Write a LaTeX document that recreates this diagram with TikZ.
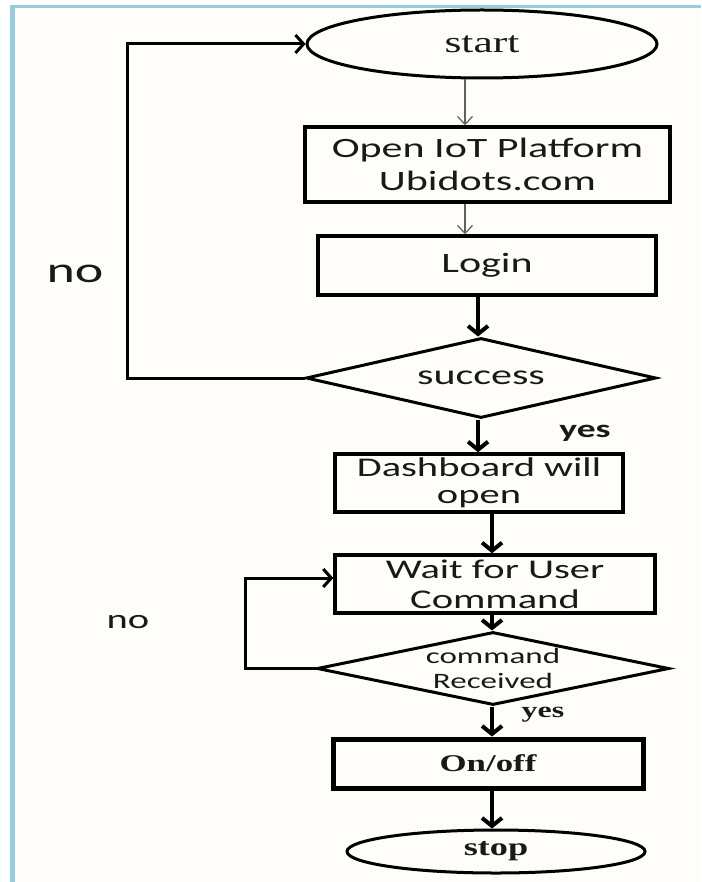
\documentclass[tikz,border=0pt]{standalone}
\usepackage{fontspec}
\usetikzlibrary{shapes.geometric,arrows.meta}
\newfontfamily\sansw[FakeStretch=1.5]{Carlito}
\newfontfamily\serifw[FakeStretch=1.45]{Liberation Serif}
\definecolor{framecol}{RGB}{150,205,222}
\definecolor{paper}{RGB}{255,253,249}
\definecolor{ink}{RGB}{25,25,25}
\definecolor{thinline}{RGB}{95,95,95}
\tikzset{
  box/.style={draw=black, line width=3.5pt, rectangle, inner sep=0pt, align=center, text=ink},
  oval/.style={draw=black, line width=3pt, ellipse, inner sep=0pt, text=ink},
  decision/.style={draw=black, line width=3pt, diamond, inner sep=0pt},
  thinarrow/.style={draw=thinline, line width=1.2pt, -{Straight Barb[length=8pt,width=15pt]}},
  thickarrow/.style={draw=black, line width=4pt, -{Straight Barb[length=8pt,width=20pt]}},
  loopline/.style={draw=black, line width=3pt, -{Straight Barb[length=8pt,width=18pt]}},
  boxtext/.style={font=\sansw\fontsize{28}{33}\selectfont},
}
\begin{document}
\begin{tikzpicture}[x=1pt,y=-1pt]
  \useasboundingbox (0,0) rectangle (701,882);
  % page frame
  \fill[paper] (12,7) rectangle (701,882);
  \draw[framecol, line width=3pt] (12,7) -- (701,7);
  \draw[framecol, line width=5pt] (12,5) -- (12,882);

  % columns used by the vertical connectors
  \coordinate (ca) at (465,0);
  \coordinate (cb) at (478,0);
  \coordinate (cc) at (492,0);
  \coordinate (loopa) at (127,0);
  \coordinate (loopb) at (245,0);

  % flow chart nodes
  \node[oval, minimum width=350, minimum height=68, font=\serifw\fontsize{30}{30}\selectfont]
    (start) at (482,44) {start};
  \node[box, boxtext, minimum width=365, minimum height=75]
    (open) at (487.5,164.5) {Open IoT Platform\\Ubidots.com};
  \node[box, boxtext, minimum width=338, minimum height=59]
    (login) at (487,265.5) {Login};
  \node[decision, minimum width=350, minimum height=80,
        label={[boxtext, text=ink]center:success}]
    (success) at (481,378) {};
  \node[box, font=\sansw\fontsize{27}{27}\selectfont, minimum width=288, minimum height=58]
    (dash) at (479,483) {Dashboard will\\open};
  \node[box, font=\sansw\fontsize{27}{30}\selectfont, minimum width=320, minimum height=58]
    (wait) at (495,584) {Wait for User\\Command};
  \node[decision, minimum width=352, minimum height=73,
        label={[font=\sansw\fontsize{22}{25}\selectfont, text=ink, align=center]center:command\\Received}]
    (cmd) at (493,668.5) {};
  \node[box, line width=5pt, minimum width=310, minimum height=49,
        font=\serifw\bfseries\fontsize{24}{24}\selectfont]
    (onoff) at (488,763.5) {On/off};
  \node[oval, minimum width=298, minimum height=43,
        font=\serifw\bfseries\fontsize{25}{25}\selectfont]
    (stop) at (496,851.5) {stop};

  % branch labels
  \node[font=\sansw\fontsize{36}{36}\selectfont, text=ink] (noa) at (75,274) {no};
  \node[font=\sansw\fontsize{27}{27}\selectfont, text=ink] (nob) at (128,622) {no};
  \node[font=\sansw\bfseries\fontsize{25}{25}\selectfont, text=ink] (yesa) at (585,433) {yes};
  \node[font=\serifw\bfseries\fontsize{22}{22}\selectfont, text=ink] (yesb) at (543,715) {yes};

  % connectors
  \draw[thinarrow] (start.south -| ca) -- (open.north -| ca);
  \draw[thinarrow] (open.south -| ca) -- (login.north -| ca);
  \draw[thickarrow] (login.south -| cb) -- (success.north -| cb);
  \draw[thickarrow] (success.south -| cb) -- (dash.north -| cb);
  \draw[thickarrow] (dash.south -| cc) -- (wait.north -| cc);
  \draw[thickarrow] (wait.south -| cc) -- (cmd.north -| cc);
  \draw[thickarrow] (cmd.south -| cc) -- (onoff.north -| cc);
  \draw[thickarrow] (onoff.south -| cc) -- (stop.north -| cc);

  % return loops
  \draw[loopline] (success.west) -- (success.west -| loopa) |- (start.west);
  \draw[loopline] (cmd.west) -- (cmd.west -| loopb) |- ([yshift=6pt]wait.west);
\end{tikzpicture}
\end{document}
